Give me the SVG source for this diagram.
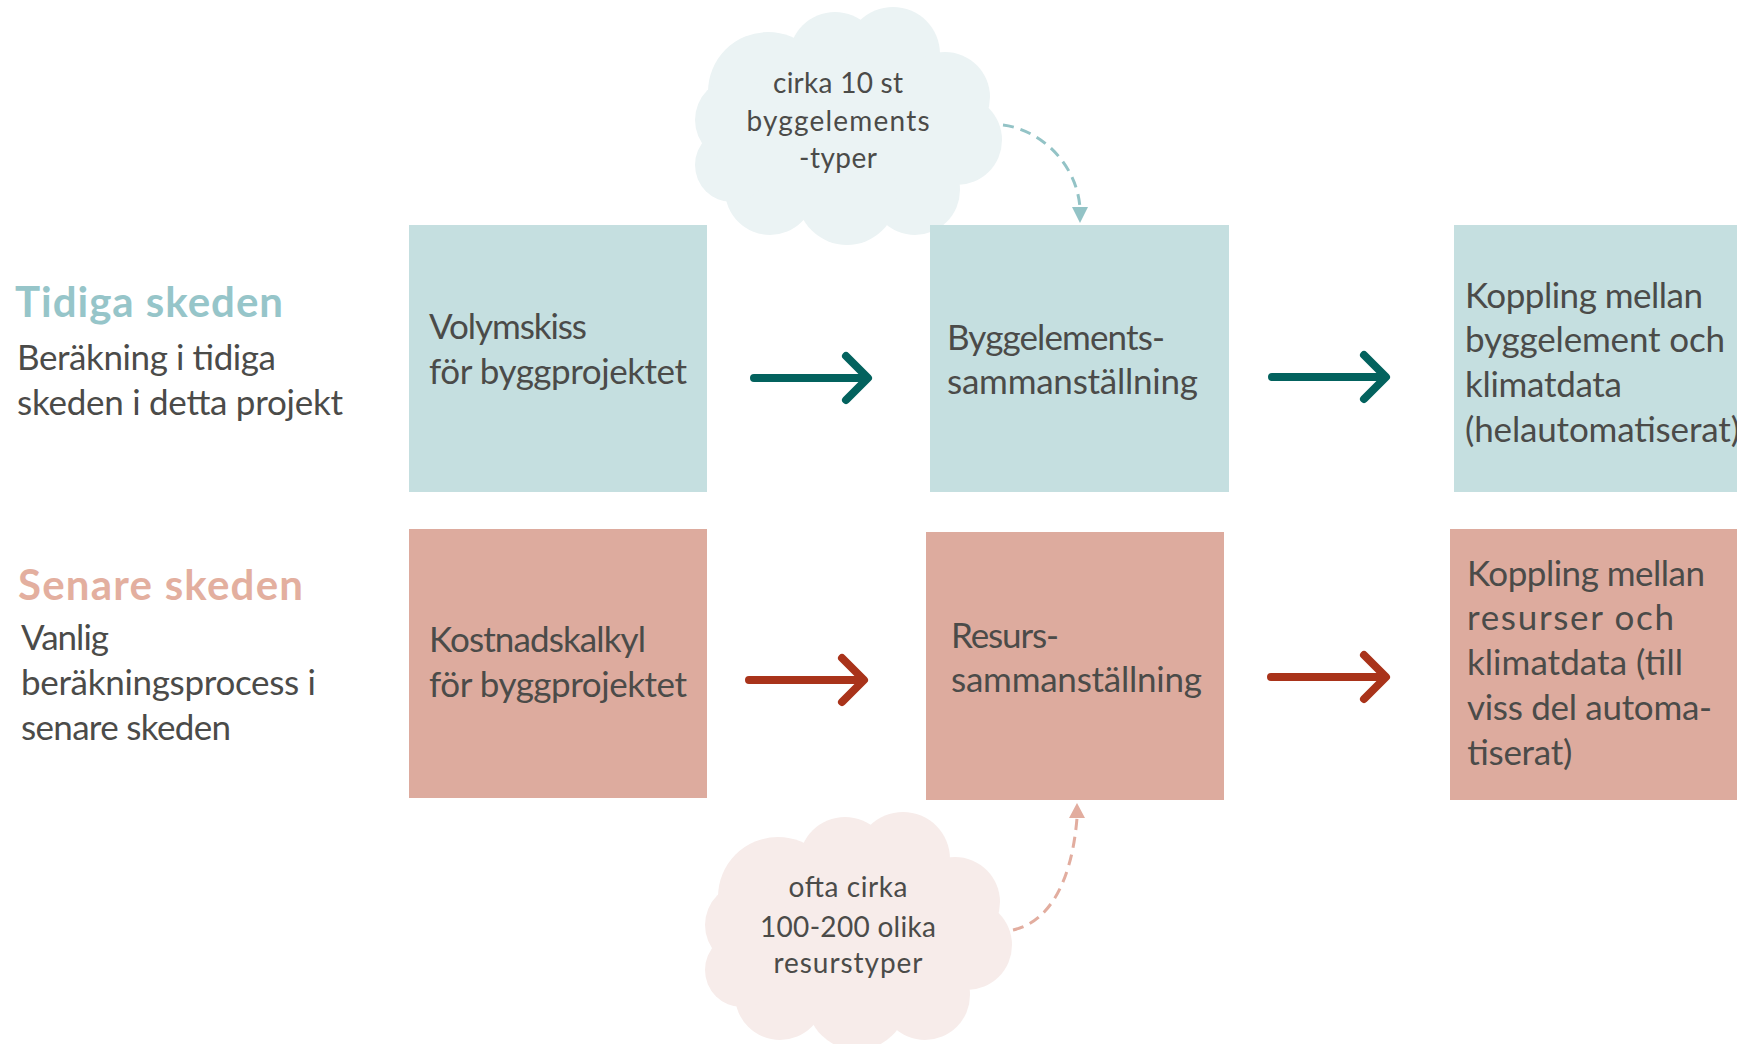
<svg xmlns="http://www.w3.org/2000/svg" width="1737" height="1044" viewBox="0 0 1737 1044">
<defs>
<style>
text{font-family:Lato,"Open Sans","Liberation Sans",sans-serif;fill:#4B4B49}
.b{font-size:35px}
.c{font-size:28px;text-anchor:middle}
.h{font-size:42px;font-weight:bold}
.blue{fill:#C5DFE0}
.pink{fill:#DDAB9E}
.ar{fill:none;stroke-width:8;stroke-linecap:round;stroke-linejoin:round}
.t{stroke:#03625E}
.r{stroke:#A9331A}
</style>
<g id="cloudshape">
<ellipse cx="848" cy="128" rx="120" ry="85"/>
<circle cx="768" cy="92" r="60"/>
<circle cx="835" cy="58" r="46"/>
<circle cx="893" cy="54" r="47"/>
<circle cx="945" cy="97" r="45"/>
<circle cx="957" cy="140" r="45"/>
<circle cx="915" cy="190" r="45"/>
<circle cx="847" cy="195" r="50"/>
<circle cx="770" cy="190" r="45"/>
<circle cx="732" cy="165" r="37"/>
<circle cx="737" cy="120" r="42"/>
</g>
</defs>
<rect width="1737" height="1044" fill="#fff"/>

<g id="label-tidiga">
<text class="h" x="15" y="317" style="fill:#96C5C9" textLength="268" lengthAdjust="spacing">Tidiga skeden</text>
<text class="b" x="17" y="370" textLength="259" lengthAdjust="spacing">Beräkning i tidiga</text>
<text class="b" x="17" y="415" textLength="326" lengthAdjust="spacing">skeden i detta projekt</text>
</g>
<g id="label-senare">
<text class="h" x="18" y="600" style="fill:#E3AF9F" textLength="285" lengthAdjust="spacing">Senare skeden</text>
<text class="b" x="21" y="650" textLength="88" lengthAdjust="spacing">Vanlig</text>
<text class="b" x="21" y="695" textLength="295" lengthAdjust="spacing">beräkningsprocess i</text>
<text class="b" x="21" y="740" textLength="210" lengthAdjust="spacing">senare skeden</text>
</g>

<g id="cloud-top">
<use href="#cloudshape" fill="#EBF3F4"/>
<text class="c" x="838" y="93" textLength="130" lengthAdjust="spacing">cirka 10 st</text>
<text class="c" x="838" y="131" textLength="183" lengthAdjust="spacing">byggelements</text>
<text class="c" x="838" y="168" textLength="78" lengthAdjust="spacing">-typer</text>
</g>
<g id="cloud-bottom">
<use href="#cloudshape" fill="#F7ECEA" transform="translate(10,805)"/>
<text class="c" x="848" y="897" textLength="119" lengthAdjust="spacing">ofta cirka</text>
<text class="c" x="848" y="937" textLength="176" lengthAdjust="spacing">100-200 olika</text>
<text class="c" x="848" y="973" textLength="149" lengthAdjust="spacing">resurstyper</text>
</g>

<g id="node-volymskiss">
<rect class="blue" x="409" y="225" width="298" height="267"/>
<text class="b" x="429" y="339" textLength="158" lengthAdjust="spacing">Volymskiss</text>
<text class="b" x="429" y="384" textLength="258" lengthAdjust="spacing">för byggprojektet</text>
</g>
<g id="node-byggelement">
<rect class="blue" x="930" y="225" width="299" height="267"/>
<text class="b" x="947" y="350" textLength="218" lengthAdjust="spacing">Byggelements-</text>
<text class="b" x="947" y="394" textLength="251" lengthAdjust="spacing">sammanställning</text>
</g>
<g id="node-koppling-bygg">
<rect class="blue" x="1454" y="225" width="290" height="267"/>
<text class="b" x="1465" y="308" textLength="238" lengthAdjust="spacing">Koppling mellan</text>
<text class="b" x="1465" y="352" textLength="260" lengthAdjust="spacing">byggelement och</text>
<text class="b" x="1465" y="397" textLength="157" lengthAdjust="spacing">klimatdata</text>
<text class="b" x="1465" y="442" textLength="275" lengthAdjust="spacing">(helautomatiserat)</text>
</g>

<g id="node-kostnadskalkyl">
<rect class="pink" x="409" y="529" width="298" height="269"/>
<text class="b" x="429" y="652" textLength="217" lengthAdjust="spacing">Kostnadskalkyl</text>
<text class="b" x="429" y="697" textLength="258" lengthAdjust="spacing">för byggprojektet</text>
</g>
<g id="node-resurs">
<rect class="pink" x="926" y="532" width="298" height="268"/>
<text class="b" x="951" y="648" textLength="108" lengthAdjust="spacing">Resurs-</text>
<text class="b" x="951" y="692" textLength="251" lengthAdjust="spacing">sammanställning</text>
</g>
<g id="node-koppling-resurs">
<rect class="pink" x="1450" y="529" width="294" height="271"/>
<text class="b" x="1467" y="586" textLength="238" lengthAdjust="spacing">Koppling mellan</text>
<text class="b" x="1467" y="630" textLength="207" lengthAdjust="spacing">resurser och</text>
<text class="b" x="1467" y="675" textLength="216" lengthAdjust="spacing">klimatdata (till</text>
<text class="b" x="1467" y="720" textLength="245" lengthAdjust="spacing">viss del automa-</text>
<text class="b" x="1467" y="765" textLength="105" lengthAdjust="spacing">tiserat)</text>
</g>

<g id="connectors">
<path class="ar t" d="M754,378 L866,378 M846,356 L868,378 L846,400"/>
<path class="ar t" d="M1272,377 L1384,377 M1364,355 L1386,377 L1364,399"/>
<path class="ar r" d="M749,680 L861,680 M842,658 L864,680 L842,702"/>
<path class="ar r" d="M1271,677 L1384,677 M1364,655 L1386,677 L1364,699"/>
<path d="M1003,125 C1042,130 1077,165 1080,208" fill="none" stroke="#93C3C6" stroke-width="3" stroke-dasharray="11,7"/>
<polygon points="1072,207 1088,207 1080,223" fill="#93C3C6"/>
<path d="M1013,930 C1050,922 1072,880 1077,818" fill="none" stroke="#E2AD9F" stroke-width="3" stroke-dasharray="11,7"/>
<polygon points="1069,818 1085,818 1077,803" fill="#E2AD9F"/>
</g>
</svg>
